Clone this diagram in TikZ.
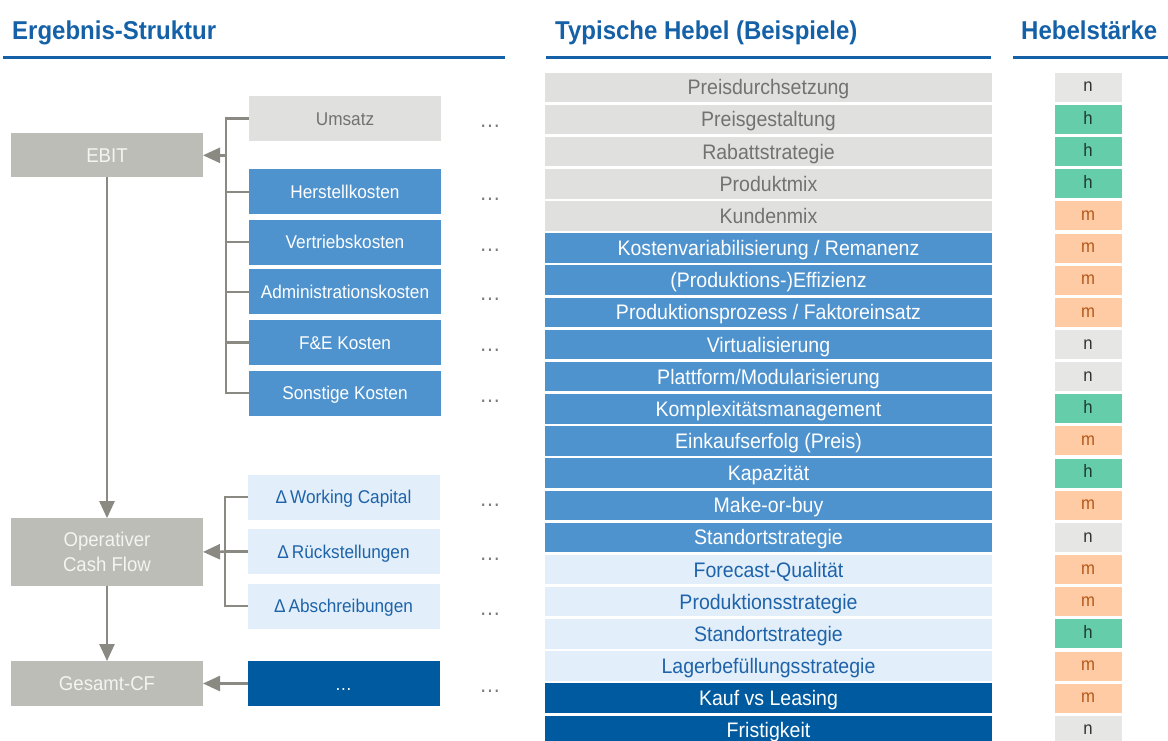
\documentclass[tikz,border=0pt]{standalone}
\usepackage{fontspec}
\setmainfont{Liberation Sans}[FakeStretch=0.93]
\usetikzlibrary{arrows.meta}
\definecolor{hdr}{HTML}{1461A8}
\definecolor{lgfill}{HTML}{BCBDB6}
\definecolor{lgtext}{HTML}{F4F4F0}
\definecolor{gfill}{HTML}{E0E0DE}
\definecolor{gtext}{HTML}{727272}
\definecolor{mbfill}{HTML}{4F93CE}
\definecolor{lbfill}{HTML}{E2EFFA}
\definecolor{lbtext}{HTML}{1E63A9}
\definecolor{dbfill}{HTML}{005A9F}
\definecolor{conncol}{HTML}{8A8A82}
\definecolor{nfill}{HTML}{E6E6E5}
\definecolor{ntext}{HTML}{333333}
\definecolor{hfill}{HTML}{66CDAA}
\definecolor{htext}{HTML}{1E3A30}
\definecolor{mfill}{HTML}{FFCBA4}
\definecolor{mtext}{HTML}{B4581A}
\definecolor{dots}{HTML}{7A7A7A}
\begin{document}
\begin{tikzpicture}[x=1pt,y=-1pt,
  box/.style={inner sep=0pt,outer sep=0pt,align=center},
  hdrtext/.style={inner sep=0pt,text=hdr,font=\fontsize{25.8}{30}\selectfont\bfseries},
  hdrline/.style={draw=hdr,line width=3pt},
  main/.style={box,fill=lgfill,text=lgtext,minimum width=192pt,minimum height=44pt,font=\fontsize{20}{25}\selectfont},
  item/.style={box,minimum width=192pt,minimum height=45pt,font=\fontsize{18.5}{22}\selectfont,text height=13.25pt,text depth=0pt},
  igray/.style={item,fill=gfill,text=gtext},
  iblue/.style={item,fill=mbfill,text=white},
  ilight/.style={item,fill=lbfill,text=lbtext},
  idark/.style={item,fill=dbfill,text=white},
  row/.style={box,minimum width=447pt,minimum height=29.5pt,font=\fontsize{21}{25}\selectfont,text height=15pt,text depth=0pt},
  rg/.style={row,fill=gfill,text=gtext},
  rb/.style={row,fill=mbfill,text=white},
  rl/.style={row,fill=lbfill,text=lbtext},
  rd/.style={row,fill=dbfill,text=white},
  heb/.style={box,minimum width=67pt,minimum height=29pt,font=\fontsize{18}{20}\selectfont,text height=9.3pt,text depth=0pt},
  hebn/.style={heb,fill=nfill,text=ntext},
  hebh/.style={heb,fill=hfill,text=htext},
  hebm/.style={heb,fill=mfill,text=mtext},
  ell/.style={inner sep=0pt,anchor=base,text=dots,font=\fontsize{23}{25}\selectfont},
  conn/.style={draw=conncol,line width=2.5pt},
  arr/.style={conn,-{Triangle[length=17pt,width=15pt]}}
]
\clip (0,0) rectangle (1168,740);
% headers
\node[hdrtext,anchor=base west] (h1) at (12,39) {Ergebnis-Struktur};
\node[hdrtext,anchor=base west] (h2) at (555,39) {Typische Hebel (Beispiele)};
\node[hdrtext,anchor=base west] (h3) at (1021,39) {Hebelstärke};
\coordinate (l1a) at (3,57.5);   \coordinate (l1b) at (505,57.5);
\coordinate (l2a) at (546,57.5); \coordinate (l2b) at (991,57.5);
\coordinate (l3a) at (1013,57.5);\coordinate (l3b) at (1168,57.5);
\draw[hdrline] (l1a) -- (l1b);
\draw[hdrline] (l2a) -- (l2b);
\draw[hdrline] (l3a) -- (l3b);
% left main boxes
\node[main] (ebit) at (107,155.3) {EBIT};
\node[main,minimum height=67.5pt] (ocf) at (107,551.9) {Operativer\\Cash Flow};
\node[main,minimum height=45pt] (gcf) at (107,683.5) {Gesamt-CF};
% items
\node[igray]  (ums) at (345,118.5) {Umsatz};
\node[iblue]  (hk)  at (345,191.8) {Herstellkosten};
\node[iblue]  (vk)  at (345,242.2) {Vertriebskosten};
\node[iblue]  (ak)  at (345,291.8) {Administrationskosten};
\node[iblue]  (fe)  at (345,342.5) {F\&E Kosten};
\node[iblue]  (sk)  at (345,393.0) {Sonstige Kosten};
\node[ilight] (wc)  at (343.5,497) {Δ\,Working Capital};
\node[ilight] (rs)  at (343.5,551.7) {Δ\,Rückstellungen};
\node[ilight] (ab)  at (343.5,606) {Δ\,Abschreibungen};
\node[idark]  (dk)  at (343.5,683.5) {…};
% ellipses
\foreach \n/\y in {e1/118.5,e2/191.8,e3/242.2,e4/291.8,e5/342.5,e6/393,e7/497,e8/551.7,e9/606,e10/683.5}
  \node[ell] (\n) at (490,\y+9) {…};
% connectors
\coordinate (b1) at (226,155.3);
\coordinate (b2) at (225,551.7);
\draw[conn] (ums.west) -- (ums.west -| b1) -- (sk.west -| b1) -- (sk.west);
\foreach \n in {hk,vk,ak,fe} \draw[conn] (\n.west) -- (\n.west -| b1);
\draw[arr] (b1) -- (ebit.east);
\draw[conn] (wc.west) -- (wc.west -| b2) -- (ab.west -| b2) -- (ab.west);
\draw[conn] (rs.west) -- (b2);
\draw[arr] (b2) -- (ocf.east);
\draw[arr] (dk.west) -- (dk.west -| gcf.east);
\draw[arr] (ebit.south) -- (ocf.north);
\draw[arr] (ocf.south) -- (gcf.north);
% list
\foreach \t/\s/\h [count=\i from 0] in {
  {Preisdurchsetzung}/rg/n,
  {Preisgestaltung}/rg/h,
  {Rabattstrategie}/rg/h,
  {Produktmix}/rg/h,
  {Kundenmix}/rg/m,
  {Kostenvariabilisierung / Remanenz}/rb/m,
  {(Produktions-)Effizienz}/rb/m,
  {Produktionsprozess / Faktoreinsatz}/rb/m,
  {Virtualisierung}/rb/n,
  {Plattform/Modularisierung}/rb/n,
  {Komplexitätsmanagement}/rb/h,
  {Einkaufserfolg (Preis)}/rb/m,
  {Kapazität}/rb/h,
  {Make-or-buy}/rb/m,
  {Standortstrategie}/rb/n,
  {Forecast-Qualität}/rl/m,
  {Produktionsstrategie}/rl/m,
  {Standortstrategie}/rl/h,
  {Lagerbefüllungsstrategie}/rl/m,
  {Kauf vs Leasing}/rd/m,
  {Fristigkeit}/rd/n}
{
  \node[style=\s] (row\i) at (768.5,87.3+32.15*\i) {\t};
  \node[style=heb\h] (heb\i) at (1088,87.3+32.15*\i) {\h};
}
\end{tikzpicture}
\end{document}
